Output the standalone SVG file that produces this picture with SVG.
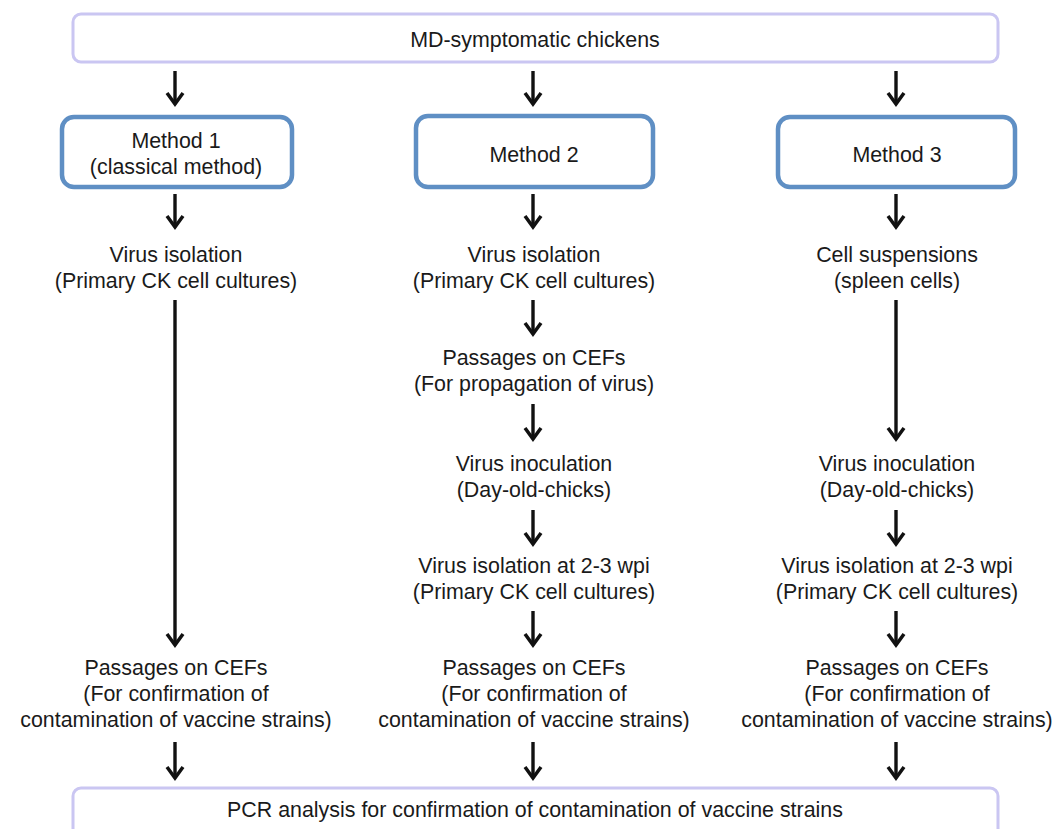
<svg xmlns="http://www.w3.org/2000/svg" width="1060" height="829" viewBox="0 0 1060 829">
<defs>
<style>
text{font-family:"Liberation Sans",Arial,sans-serif;font-size:21.4px;fill:#1a1a1a;text-anchor:middle}
.wide{fill:#fff;stroke:#cac6f2;stroke-width:3}
.method{fill:#fff;stroke:#5f8fc4;stroke-width:4.5}
.arr{stroke:#111;stroke-width:3.4;fill:none;marker-end:url(#ah)}
</style>
<marker id="ah" markerUnits="userSpaceOnUse" viewBox="-14 -11 17 22" markerWidth="17" markerHeight="22" refX="0" refY="0" orient="auto">
<path d="M-11,-8 L0,0 L-11,8" fill="none" stroke="#111" stroke-width="3.5" stroke-linejoin="miter"/>
</marker>
</defs>
<rect width="1060" height="829" fill="#fff"/>
<g id="top">
<rect class="wide" x="73" y="14" width="925" height="48" rx="8"/>
<text x="535" y="47">MD-symptomatic chickens</text>
</g>
<g id="m1">
<rect class="method" x="62" y="117" width="230" height="70" rx="12"/>
<text x="176" y="148">Method 1</text>
<text x="176" y="174">(classical method)</text>
</g>
<g id="m2">
<rect class="method" x="416" y="116" width="237" height="71" rx="12"/>
<text x="534" y="162">Method 2</text>
</g>
<g id="m3">
<rect class="method" x="778" y="117" width="237" height="70" rx="12"/>
<text x="897" y="162">Method 3</text>
</g>
<g id="c1a">
<text x="176" y="262">Virus isolation</text>
<text x="176" y="288">(Primary CK cell cultures)</text>
</g>
<g id="c1b">
<text x="176" y="675">Passages on CEFs</text>
<text x="176" y="701">(For confirmation of</text>
<text x="176" y="727">contamination of vaccine strains)</text>
</g>
<g id="c2a">
<text x="534" y="262">Virus isolation</text>
<text x="534" y="288">(Primary CK cell cultures)</text>
</g>
<g id="c2b">
<text x="534" y="365">Passages on CEFs</text>
<text x="534" y="391">(For propagation of virus)</text>
</g>
<g id="c2c">
<text x="534" y="471">Virus inoculation</text>
<text x="534" y="497">(Day-old-chicks)</text>
</g>
<g id="c2d">
<text x="534" y="573">Virus isolation at 2-3 wpi</text>
<text x="534" y="599">(Primary CK cell cultures)</text>
</g>
<g id="c2e">
<text x="534" y="675">Passages on CEFs</text>
<text x="534" y="701">(For confirmation of</text>
<text x="534" y="727">contamination of vaccine strains)</text>
</g>
<g id="c3a">
<text x="897" y="262">Cell suspensions</text>
<text x="897" y="288">(spleen cells)</text>
</g>
<g id="c3c">
<text x="897" y="471">Virus inoculation</text>
<text x="897" y="497">(Day-old-chicks)</text>
</g>
<g id="c3d">
<text x="897" y="573">Virus isolation at 2-3 wpi</text>
<text x="897" y="599">(Primary CK cell cultures)</text>
</g>
<g id="c3e">
<text x="897" y="675">Passages on CEFs</text>
<text x="897" y="701">(For confirmation of</text>
<text x="897" y="727">contamination of vaccine strains)</text>
</g>
<g id="bottom">
<rect class="wide" x="73" y="788" width="925" height="60" rx="8"/>
<text x="535" y="817">PCR analysis for confirmation of contamination of vaccine strains</text>
</g>
<g id="connectors">
<line class="arr" x1="175" y1="71" x2="175" y2="104"/>
<line class="arr" x1="533" y1="71" x2="533" y2="104"/>
<line class="arr" x1="896" y1="71" x2="896" y2="104"/>
<line class="arr" x1="175" y1="194" x2="175" y2="227"/>
<line class="arr" x1="533" y1="194" x2="533" y2="227"/>
<line class="arr" x1="896" y1="194" x2="896" y2="227"/>
<line class="arr" x1="175" y1="300" x2="175" y2="645"/>
<line class="arr" x1="533" y1="300" x2="533" y2="334"/>
<line class="arr" x1="533" y1="404" x2="533" y2="439"/>
<line class="arr" x1="533" y1="510" x2="533" y2="544"/>
<line class="arr" x1="533" y1="611" x2="533" y2="645"/>
<line class="arr" x1="896" y1="300" x2="896" y2="439"/>
<line class="arr" x1="896" y1="510" x2="896" y2="544"/>
<line class="arr" x1="896" y1="611" x2="896" y2="645"/>
<line class="arr" x1="175" y1="742" x2="175" y2="778"/>
<line class="arr" x1="533" y1="742" x2="533" y2="778"/>
<line class="arr" x1="896" y1="742" x2="896" y2="778"/>
</g>
</svg>
